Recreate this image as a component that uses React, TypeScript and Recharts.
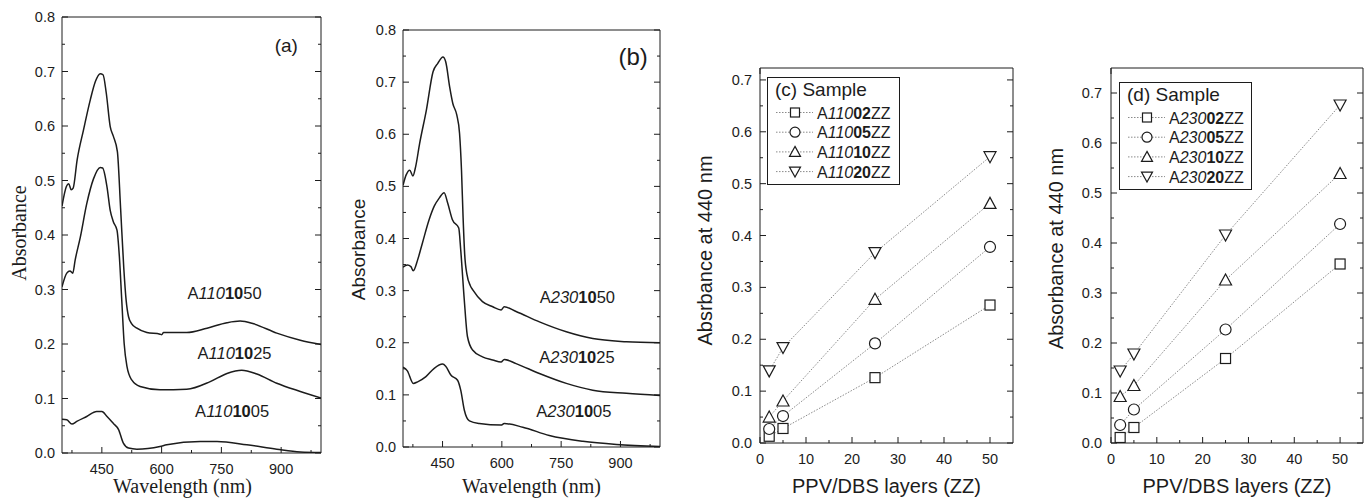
import React from 'react'
import { LineChart, Line, XAxis, YAxis, ReferenceDot, Legend } from 'recharts'

const SANS = '"Liberation Sans", Arial, Helvetica, sans-serif'
const SERIF = '"Liberation Serif", "Times New Roman", serif'
const INK = '#1c1c1c'
const H = 498
const TICK_FONT = 14.5

type Pair = [number, number]

// ---- spectra (wavelength nm, absorbance) ----
const a1050: Pair[] = [[350,0.453],[361,0.489],[367,0.494],[373,0.483],[378,0.486],[388,0.538],[404,0.593],[421,0.648],[434,0.682],[446,0.696],[453,0.694],[461,0.661],[471,0.599],[479,0.581],[489,0.553],[497,0.45],[505,0.34],[511,0.28],[517,0.25],[525,0.237],[538,0.229],[563,0.221],[596,0.218],[600,0.217],[605,0.221],[663,0.221],[714,0.229],[764,0.239],[797,0.242],[831,0.237],[889,0.22],[948,0.207],[1000,0.199]]
const a1025: Pair[] = [[350,0.305],[362,0.33],[370,0.334],[377,0.33],[383,0.354],[396,0.396],[412,0.457],[429,0.503],[446,0.524],[452,0.523],[463,0.488],[471,0.445],[479,0.424],[488,0.409],[494,0.36],[500,0.28],[506,0.201],[513,0.159],[525,0.134],[546,0.122],[596,0.116],[663,0.117],[722,0.131],[764,0.146],[801,0.152],[839,0.145],[889,0.128],[948,0.113],[1000,0.101]]
const a1005: Pair[] = [[350,0.062],[362,0.061],[375,0.053],[387,0.058],[412,0.067],[437,0.076],[450,0.076],[463,0.067],[479,0.054],[492,0.043],[504,0.018],[517,0.009],[538,0.007],[596,0.012],[613,0.015],[697,0.021],[739,0.021],[814,0.015],[889,0.007],[948,0.002],[1000,0.001]]

const b1050: Pair[] = [[350,0.502],[358,0.522],[367,0.531],[375,0.52],[382,0.538],[392,0.582],[409,0.646],[426,0.72],[438,0.736],[451,0.748],[458,0.739],[468,0.691],[476,0.659],[486,0.637],[493,0.602],[498,0.53],[502,0.44],[506,0.37],[512,0.33],[520,0.31],[527,0.301],[551,0.279],[577,0.269],[598,0.263],[606,0.269],[636,0.26],[695,0.24],[763,0.221],[830,0.208],[915,0.202],[1000,0.2]]
const b1025: Pair[] = [[350,0.345],[361,0.349],[370,0.346],[376,0.338],[387,0.359],[399,0.391],[416,0.436],[429,0.462],[442,0.478],[454,0.488],[463,0.468],[475,0.436],[491,0.42],[496,0.378],[505,0.282],[513,0.212],[526,0.186],[551,0.173],[577,0.167],[598,0.163],[606,0.168],[636,0.16],[695,0.141],[763,0.122],[830,0.109],[915,0.103],[1000,0.099]]
const b1005: Pair[] = [[350,0.153],[361,0.146],[376,0.122],[387,0.125],[408,0.135],[429,0.151],[450,0.159],[458,0.155],[471,0.138],[488,0.128],[496,0.109],[505,0.071],[518,0.05],[543,0.045],[598,0.042],[606,0.045],[653,0.038],[720,0.022],[805,0.011],[890,0.005],[1000,0.001]]

// curve labels: [wavelength, absorbance] of text centre
const aNoteAt: Pair[] = [[758,0.294],[783,0.184],[777,0.077]]
const bNoteAt: Pair[] = [[791,0.287],[790,0.172],[782,0.07]]
const aNoteTail = ['50', '25', '05']

// ---- absorbance at 440 nm vs layers ----
const layers = [2, 5, 25, 50]
const c02 = [0.013, 0.028, 0.126, 0.266]
const c05 = [0.027, 0.052, 0.192, 0.378]
const c10 = [0.05, 0.081, 0.277, 0.462]
const c20 = [0.139, 0.184, 0.367, 0.552]
const d02 = [0.011, 0.031, 0.169, 0.358]
const d05 = [0.036, 0.067, 0.227, 0.438]
const d10 = [0.093, 0.115, 0.326, 0.539]
const d20 = [0.144, 0.178, 0.416, 0.676]
const sampleCodes = ['02', '05', '10', '20']
const markerKinds = ['square', 'circle', 'up', 'down']

// ---- ticks ----
const specXTicks = [375, 450, 525, 600, 675, 750, 825, 900, 975]
const specXLabels = [450, 600, 750, 900]
const specYTicks = [0, 0.05, 0.1, 0.15, 0.2, 0.25, 0.3, 0.35, 0.4, 0.45, 0.5, 0.55, 0.6, 0.65, 0.7, 0.75, 0.8]
const specYLabels = [0, 0.1, 0.2, 0.3, 0.4, 0.5, 0.6, 0.7, 0.8]
const layerXTicks = [0, 5, 10, 15, 20, 25, 30, 35, 40, 45, 50]
const layerXLabels = [0, 10, 20, 30, 40, 50]
const absYTicks = [0, 0.05, 0.1, 0.15, 0.2, 0.25, 0.3, 0.35, 0.4, 0.45, 0.5, 0.55, 0.6, 0.65, 0.7]
const absYLabels = [0, 0.1, 0.2, 0.3, 0.4, 0.5, 0.6, 0.7]

const toPts = (arr: Pair[]) => arr.map(([x, y]) => ({ x, y }))

type Side = 'bottom' | 'left' | 'top' | 'right'

function tickMark(side: Side, labels: number[], digits: number, gap = 7) {
  return (props: any) => {
    const { x, y, payload } = props
    const v = payload.value as number
    const major = labels.some((l) => Math.abs(l - v) < 1e-9)
    const len = major ? 6 : 3
    let l = { x1: x, y1: y, x2: x, y2: y - len }
    if (side === 'top') l = { x1: x, y1: y, x2: x, y2: y + len }
    if (side === 'left') l = { x1: x, y1: y, x2: x + len, y2: y }
    if (side === 'right') l = { x1: x, y1: y, x2: x - len, y2: y }
    return (
      <g>
        <line {...l} stroke={INK} strokeWidth={1} />
        {major && side === 'bottom' && (
          <text x={x} y={y + 21} textAnchor="middle" fontFamily={SANS} fontSize={TICK_FONT} fill={INK}>
            {v.toFixed(digits)}
          </text>
        )}
        {major && side === 'left' && (
          <text x={x - gap} y={y + 5} textAnchor="end" fontFamily={SANS} fontSize={TICK_FONT} fill={INK}>
            {v.toFixed(digits)}
          </text>
        )}
      </g>
    )
  }
}

function xTitle(text: string, font: string, size: number, dx = 0) {
  return (p: any) => {
    const vb = p.viewBox
    return (
      <text x={vb.x + vb.width / 2 + dx} y={493} textAnchor="middle" fontFamily={font} fontSize={size} fill={INK}>
        {text}
      </text>
    )
  }
}

function yTitle(text: string, font: string, size: number, x: number, dy = 0) {
  return (p: any) => {
    const vb = p.viewBox
    const cy = vb.y + vb.height / 2 + dy
    return (
      <text x={x} y={cy} transform={`rotate(-90 ${x} ${cy})`} textAnchor="middle" fontFamily={font} fontSize={size} fill={INK}>
        {text}
      </text>
    )
  }
}

function CodeText({ x, y, parts, size, anchor = 'middle' }: any) {
  return (
    <text x={x} y={y} textAnchor={anchor} dominantBaseline="central" fontFamily={SANS} fontSize={size} fill={INK}>
      <tspan>{parts[0]}</tspan>
      <tspan fontStyle="italic">{parts[1]}</tspan>
      <tspan fontWeight="bold">{parts[2]}</tspan>
      <tspan>{parts[3]}</tspan>
    </text>
  )
}

function Marker({ cx, cy, kind, size = 10 }: any) {
  const h = size / 2
  const st = { fill: '#fff', stroke: INK, strokeWidth: 1.2 }
  if (kind === 'square') return <rect x={cx - h} y={cy - h} width={size} height={size} {...st} />
  if (kind === 'circle') return <circle cx={cx} cy={cy} r={h + 0.5} {...st} />
  if (kind === 'up')
    return <polygon points={`${cx},${cy - h - 1} ${cx + h + 1},${cy + h} ${cx - h - 1},${cy + h}`} {...st} />
  return <polygon points={`${cx - h - 1},${cy - h} ${cx + h + 1},${cy - h} ${cx},${cy + h + 1}`} {...st} />
}

function SpectrumPanel(p: {
  width: number
  plotLeft: number
  plotRight: number
  plotTop: number
  plotBottom: number
  curves: Pair[][]
  noteAt: Pair[]
  group: string
  tag: string
  tagAt: Pair
  tagSize: number
  yFont: string
  ySize: number
  yX: number
  yDy: number
  xDx: number
}) {
  return (
    <LineChart
      width={p.width}
      height={H}
      margin={{ top: p.plotTop - 1, right: p.width - p.plotRight - 1, bottom: 0, left: 0 }}
    >
      <XAxis
        dataKey="x"
        type="number"
        domain={[350, 1000]}
        allowDataOverflow
        ticks={specXTicks}
        interval={0}
        tickSize={0}
        tickMargin={0}
        tickLine={false}
        axisLine={{ stroke: INK }}
        tick={tickMark('bottom', specXLabels, 0)}
        height={H - p.plotBottom}
        label={xTitle('Wavelength (nm)', SERIF, 20, p.xDx)}
      />
      <XAxis
        xAxisId="top"
        orientation="top"
        type="number"
        domain={[350, 1000]}
        allowDataOverflow
        ticks={specXTicks}
        interval={0}
        tickSize={0}
        tickMargin={0}
        tickLine={false}
        axisLine={{ stroke: INK }}
        tick={tickMark('top', specXLabels, 0)}
        height={1}
      />
      <YAxis
        type="number"
        domain={[0, 0.8]}
        allowDataOverflow
        ticks={specYTicks}
        interval={0}
        tickSize={0}
        tickMargin={0}
        tickLine={false}
        axisLine={{ stroke: INK }}
        tick={tickMark('left', specYLabels, 1)}
        width={p.plotLeft}
        label={yTitle('Absorbance', p.yFont, p.ySize, p.yX, p.yDy)}
      />
      <YAxis
        yAxisId="right"
        orientation="right"
        type="number"
        domain={[0, 0.8]}
        allowDataOverflow
        ticks={specYTicks}
        interval={0}
        tickSize={0}
        tickMargin={0}
        tickLine={false}
        axisLine={{ stroke: INK }}
        tick={tickMark('right', specYLabels, 1)}
        width={1}
      />
      {p.curves.map((c, i) => (
        <Line
          key={i}
          data={toPts(c)}
          dataKey="y"
          type="monotone"
          stroke={INK}
          strokeWidth={1.5}
          dot={false}
          isAnimationActive={false}
        />
      ))}
      {p.noteAt.map(([x, y], i) => (
        <ReferenceDot
          key={'n' + i}
          x={x}
          y={y}
          r={0}
          shape={(sp: any) => <CodeText x={sp.cx} y={sp.cy} parts={['A', p.group, '10', aNoteTail[i]]} size={16.5} />}
        />
      ))}
      <ReferenceDot
        x={p.tagAt[0]}
        y={p.tagAt[1]}
        r={0}
        shape={(sp: any) => (
          <text x={sp.cx} y={sp.cy} textAnchor="middle" dominantBaseline="central" fontFamily={SANS} fontSize={p.tagSize} fill={INK}>
            {p.tag}
          </text>
        )}
      />
    </LineChart>
  )
}

function SampleLegend({ title, group }: { title: string; group: string }) {
  const w = 133
  const h = 108
  return (
    <svg width={w} height={h} style={{ display: 'block', overflow: 'visible' }}>
      <rect x={0.5} y={0.5} width={w - 1} height={h - 1} fill="#fff" stroke={INK} strokeWidth={1} />
      <text x={8} y={19} fontFamily={SANS} fontSize={19} fill={INK}>
        {title}
      </text>
      {sampleCodes.map((code, i) => {
        const cy = 35.5 + i * 19.7
        return (
          <g key={code}>
            <line x1={9} y1={cy} x2={46} y2={cy} stroke="#8a8a8a" strokeWidth={1} strokeDasharray="1.5 1.5" />
            <Marker cx={28} cy={cy} kind={markerKinds[i]} size={9} />
            <CodeText x={50} y={cy} parts={['A', group, code, 'ZZ']} size={16} anchor="start" />
          </g>
        )
      })}
    </svg>
  )
}

function LayerPanel(p: {
  width: number
  plotLeft: number
  plotRight: number
  plotTop: number
  plotBottom: number
  yMax: number
  series: number[][]
  group: string
  title: string
  legendLeft: number
  legendTop: number
  labelGap: number
  yTitleText: string
  yX: number
  yDy: number
}) {
  const rows = layers.map((n, i) => {
    const r: any = { layers: n }
    sampleCodes.forEach((code, k) => (r['s' + code] = p.series[k][i]))
    return r
  })
  return (
    <LineChart
      width={p.width}
      height={H}
      data={rows}
      margin={{ top: p.plotTop - 1, right: p.width - p.plotRight - 1, bottom: 0, left: 0 }}
    >
      <XAxis
        dataKey="layers"
        type="number"
        domain={[0, 55]}
        allowDataOverflow
        ticks={layerXTicks}
        interval={0}
        tickSize={0}
        tickMargin={0}
        tickLine={false}
        axisLine={{ stroke: INK }}
        tick={tickMark('bottom', layerXLabels, 0)}
        height={H - p.plotBottom}
        label={xTitle('PPV/DBS layers (ZZ)', SANS, 20)}
      />
      <XAxis
        xAxisId="top"
        orientation="top"
        type="number"
        domain={[0, 55]}
        allowDataOverflow
        ticks={layerXTicks}
        interval={0}
        tickSize={0}
        tickMargin={0}
        tickLine={false}
        axisLine={{ stroke: INK }}
        tick={tickMark('top', layerXLabels, 0)}
        height={1}
      />
      <YAxis
        type="number"
        domain={[0, p.yMax]}
        allowDataOverflow
        ticks={absYTicks}
        interval={0}
        tickSize={0}
        tickMargin={0}
        tickLine={false}
        axisLine={{ stroke: INK }}
        tick={tickMark('left', absYLabels, 1, p.labelGap)}
        width={p.plotLeft}
        label={yTitle(p.yTitleText, SANS, 20, p.yX, p.yDy)}
      />
      <YAxis
        yAxisId="right"
        orientation="right"
        type="number"
        domain={[0, p.yMax]}
        allowDataOverflow
        ticks={absYTicks}
        interval={0}
        tickSize={0}
        tickMargin={0}
        tickLine={false}
        axisLine={{ stroke: INK }}
        tick={tickMark('right', absYLabels, 1)}
        width={1}
      />
      {sampleCodes.map((code, k) => (
        <Line
          key={code}
          dataKey={'s' + code}
          type="linear"
          stroke="#8a8a8a"
          strokeWidth={1}
          strokeDasharray="1.5 1.5"
          dot={(d: any) => <Marker key={code + d.index} cx={d.cx} cy={d.cy} kind={markerKinds[k]} />}
          isAnimationActive={false}
        />
      ))}
      <Legend
        layout="horizontal"
        verticalAlign="middle"
        align="center"
        wrapperStyle={{ left: p.legendLeft, top: p.legendTop, width: 133, height: 108 }}
        content={() => <SampleLegend title={p.title} group={p.group} />}
      />
    </LineChart>
  )
}

export default function App() {
  return (
    <div style={{ position: 'absolute', left: 0, top: 0, width: 1364, height: H, background: '#fff' }}>
      <div style={{ position: 'absolute', left: 0, top: 0 }}>
        <SpectrumPanel
          width={340}
          plotLeft={62}
          plotRight={321}
          plotTop={17}
          plotBottom={453}
          curves={[a1050, a1025, a1005]}
          noteAt={aNoteAt}
          group="110"
          tag="(a)"
          tagAt={[913, 0.748]}
          tagSize={19}
          yFont={SERIF}
          ySize={20}
          yX={26}
          yDy={-2}
          xDx={-9}
        />
      </div>
      <div style={{ position: 'absolute', left: 340, top: 0 }}>
        <SpectrumPanel
          width={340}
          plotLeft={63}
          plotRight={320}
          plotTop={30}
          plotBottom={447}
          curves={[b1050, b1025, b1005]}
          noteAt={bNoteAt}
          group="230"
          tag="(b)"
          tagAt={[932, 0.749]}
          tagSize={24}
          yFont={SANS}
          ySize={19}
          yX={25}
          yDy={11}
          xDx={0}
        />
      </div>
      <div style={{ position: 'absolute', left: 680, top: 0 }}>
        <LayerPanel
          width={340}
          plotLeft={80}
          plotRight={333}
          plotTop={68}
          plotBottom={443}
          yMax={0.723}
          series={[c02, c05, c10, c20]}
          group="110"
          title="(c) Sample"
          legendLeft={87}
          legendTop={77}
          labelGap={8}
          yTitleText="Absrbance at 440 nm"
          yX={32}
          yDy={-5}
        />
      </div>
      <div style={{ position: 'absolute', left: 1020, top: 0 }}>
        <LayerPanel
          width={344}
          plotLeft={91}
          plotRight={343}
          plotTop={68}
          plotBottom={443}
          yMax={0.75}
          series={[d02, d05, d10, d20]}
          group="230"
          title="(d) Sample"
          legendLeft={99}
          legendTop={82}
          labelGap={9}
          yTitleText="Absorbance at 440 nm"
          yX={43}
          yDy={-7}
        />
      </div>
    </div>
  )
}
